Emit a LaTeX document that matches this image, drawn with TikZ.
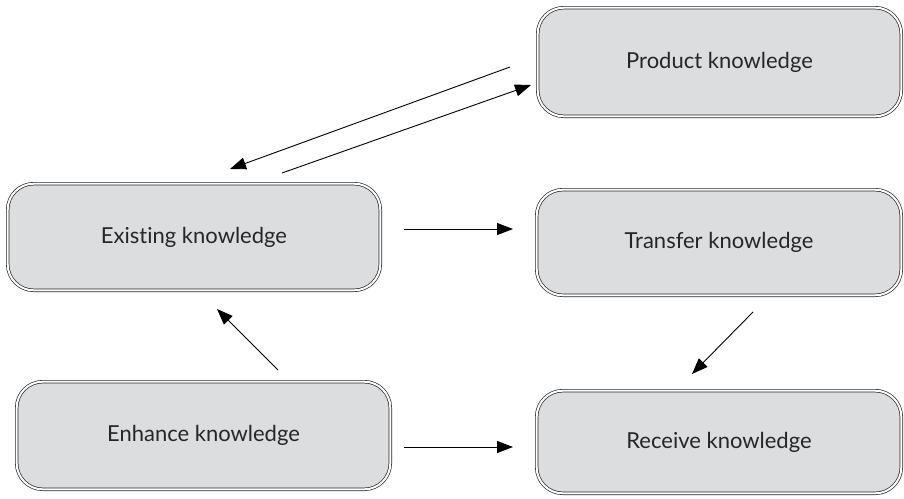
\documentclass[tikz,border=0pt]{standalone}
\usepackage{fontspec}
\setmainfont{Lato}[Ligatures=NoCommon]
\usetikzlibrary{arrows.meta}
\definecolor{boxgray}{HTML}{DCDDDF}
\begin{document}
\begin{tikzpicture}[x=1pt,y=-1pt,
  kbox/.style={draw=black!85, line width=0.7pt, double=white, double distance=2pt,
    fill=boxgray, rounded corners=26pt, inner sep=0pt,
    font=\fontsize{22}{26}\selectfont, text=black!85},
  conn/.style={line width=0.9pt, -{Triangle[length=16pt,width=12pt]}}]
\useasboundingbox (0,0) rectangle (904,498);
\node[kbox, minimum width=363.6pt, minimum height=108.6pt] (prod) at (719.5,62) {Product knowledge};
\node[kbox, minimum width=372.6pt, minimum height=106.6pt] (exist) at (194,237) {Existing knowledge};
\node[kbox, minimum width=364.6pt, minimum height=105.6pt] (trans) at (719,242.5) {Transfer knowledge};
\node[kbox, minimum width=373.6pt, minimum height=107.6pt] (enh) at (203.5,435.5) {Enhance knowledge};
\node[kbox, minimum width=364.6pt, minimum height=102.6pt] (recv) at (719,442) {Receive knowledge};
% connector end points
\coordinate (pe1) at (510,67);
\coordinate (pe2) at (230,169);
\coordinate (ep1) at (282,173);
\coordinate (ep2) at (531,85);
\coordinate (et1) at (404,229);
\coordinate (et2) at (513,229);
\coordinate (tr1) at (753,312);
\coordinate (tr2) at (692,374);
\coordinate (ee1) at (278,370);
\coordinate (ee2) at (217,309);
\coordinate (er1) at (404,447);
\coordinate (er2) at (513,447);
\draw[conn] (pe1) -- (pe2);
\draw[conn] (ep1) -- (ep2);
\draw[conn] (et1) -- (et2);
\draw[conn] (tr1) -- (tr2);
\draw[conn] (ee1) -- (ee2);
\draw[conn] (er1) -- (er2);
\end{tikzpicture}
\end{document}
